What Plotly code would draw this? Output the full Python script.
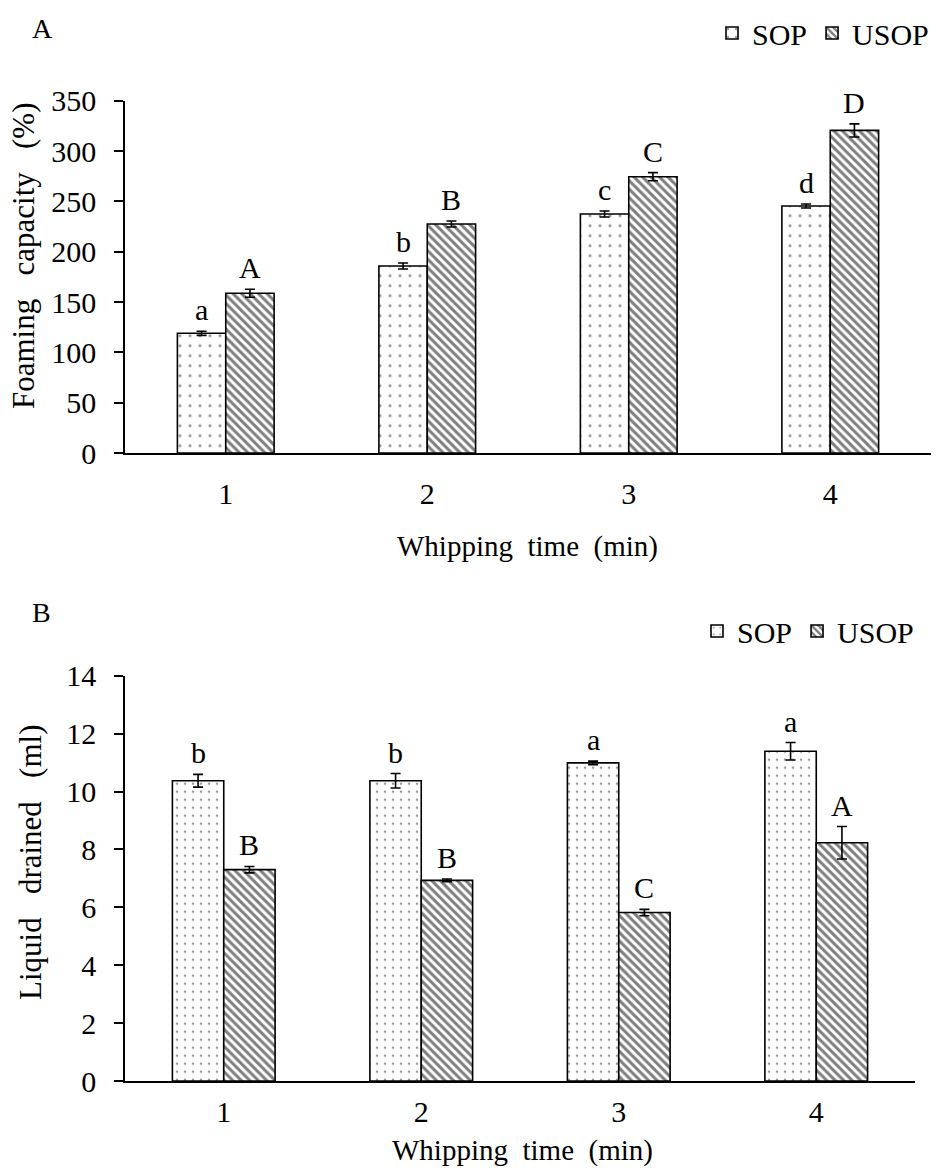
import plotly.graph_objects as go

# ---------------- data ----------------
times = [1, 2, 3, 4]
tick_labels = ["1", "2", "3", "4"]

fc_sop = [118.9, 185.8, 237.4, 245.4]
fc_sop_err = [2, 3, 3, 2]
fc_usop = [158.7, 227.5, 274.5, 320.5]
fc_usop_err = [4, 3, 4, 6.5]
fc_sop_letters = ["a", "b", "c", "d"]
fc_usop_letters = ["A", "B", "C", "D"]

ld_sop = [10.37, 10.37, 10.99, 11.39]
ld_sop_err = [0.22, 0.25, 0.06, 0.3]
ld_usop = [7.30, 6.93, 5.82, 8.23]
ld_usop_err = [0.11, 0.05, 0.11, 0.56]
ld_sop_letters = ["b", "b", "a", "a"]
ld_usop_letters = ["B", "B", "C", "A"]

# ---------------- style ----------------
W, H = 936, 1171
FONT = "Liberation Serif, Times New Roman, serif"
FS = 30
BLACK = "#000000"

def px_x(p):
    return p / W

def px_y(p):
    return 1 - p / H

fig = go.Figure()

def add_pair(sop, sop_err, usop, usop_err, xa, ya, w, legend, dot_size):
    fig.add_trace(go.Bar(
        x=times, y=sop, name="SOP", width=w, offset=-w,
        xaxis=xa, yaxis=ya, legend=legend,
        marker=dict(color="white", line=dict(color=BLACK, width=1.6),
                    pattern=dict(shape=".", size=dot_size, solidity=0.08,
                                 fgcolor="#333333", bgcolor="white")),
        error_y=dict(type="data", array=sop_err, color=BLACK, thickness=1.6, width=5),
    ))
    fig.add_trace(go.Bar(
        x=times, y=usop, name="USOP", width=w, offset=0,
        xaxis=xa, yaxis=ya, legend=legend,
        marker=dict(color="white", line=dict(color=BLACK, width=1.6),
                    pattern=dict(shape="\\", size=6, solidity=0.5,
                                 fgcolor="#000000", bgcolor="white")),
        error_y=dict(type="data", array=usop_err, color=BLACK, thickness=1.6, width=5),
    ))

wA, wB = 0.24, 0.26
add_pair(fc_sop, fc_sop_err, fc_usop, fc_usop_err, "x", "y", wA, "legend", 10)
add_pair(ld_sop, ld_sop_err, ld_usop, ld_usop_err, "x2", "y2", wB, "legend2", 8)

annotations = []

def letters(vals, errs, labs, xref, yref, dx):
    for t, v, e, l in zip(times, vals, errs, labs):
        annotations.append(dict(
            x=t + dx, y=v + e, xref=xref, yref=yref, text=l, showarrow=False,
            yanchor="bottom", xanchor="center", yshift=3,
            font=dict(family=FONT, size=FS, color=BLACK)))

letters(fc_sop, fc_sop_err, fc_sop_letters, "x", "y", -wA / 2)
letters(fc_usop, fc_usop_err, fc_usop_letters, "x", "y", wA / 2)
letters(ld_sop, ld_sop_err, ld_sop_letters, "x2", "y2", -wB / 2)
letters(ld_usop, ld_usop_err, ld_usop_letters, "x2", "y2", wB / 2)

sp = "\u00a0\u00a0"
sp3 = "\u00a0\u00a0\u00a0"
# panel labels & axis titles
for txt, x, y, ang, fs in [
    ("A", 42, 28, 0, 28),
    ("B", 41, 612, 0, 28),
    ("Whipping" + sp + "time" + sp + "(min)", 527, 546, 0, 29),
    ("Whipping" + sp + "time" + sp + "(min)", 522, 1150, 0, 29),
    ("Foaming" + sp3 + "capacity" + sp3 + "(%)", 24, 256, -90, 31),
    ("Liquid" + sp3 + "drained" + sp3 + "(ml)", 30, 862, -90, 31),
]:
    annotations.append(dict(
        x=px_x(x), y=px_y(y), xref="paper", yref="paper", text=txt,
        showarrow=False, xanchor="center", yanchor="middle", textangle=ang,
        font=dict(family=FONT, size=fs, color=BLACK)))

axis_common = dict(showgrid=False, zeroline=False, showline=True,
                   linecolor=BLACK, linewidth=1.6, automargin=False,
                   tickfont=dict(family=FONT, size=FS, color=BLACK))

fig.update_layout(
    width=W, height=H,
    margin=dict(l=0, r=0, t=0, b=0, pad=0, autoexpand=False),
    paper_bgcolor="white", plot_bgcolor="white",
    barmode="overlay", showlegend=True,
    font=dict(family=FONT, size=FS, color=BLACK),
    xaxis=dict(domain=[px_x(125), px_x(931)], range=[0.5, 4.5], anchor="y",
               tickvals=times, ticktext=tick_labels, ticks="",
               ticklabelstandoff=13, **axis_common),
    yaxis=dict(domain=[px_y(453), px_y(100.7)], range=[0, 350], anchor="x",
               tickvals=[0, 50, 100, 150, 200, 250, 300, 350],
               ticks="outside", ticklen=9, tickwidth=1.6, tickcolor=BLACK,
               ticklabelstandoff=12, **axis_common),
    xaxis2=dict(domain=[px_x(125), px_x(915)], range=[0.5, 4.5], anchor="y2",
                tickvals=times, ticktext=tick_labels, ticks="",
                ticklabelstandoff=3, **axis_common),
    yaxis2=dict(domain=[px_y(1081), px_y(675.7)], range=[0, 14], anchor="x2",
                tickvals=[0, 2, 4, 6, 8, 10, 12, 14],
                ticks="outside", ticklen=9, tickwidth=1.6, tickcolor=BLACK,
                ticklabelstandoff=12, **axis_common),
    legend=dict(orientation="h", x=px_x(934), xanchor="right",
                y=px_y(33), yanchor="middle", bgcolor="rgba(0,0,0,0)",
                font=dict(family=FONT, size=FS, color=BLACK),
                itemwidth=30, tracegroupgap=0),
    legend2=dict(orientation="h", x=px_x(919), xanchor="right",
                 y=px_y(631), yanchor="middle", bgcolor="rgba(0,0,0,0)",
                 font=dict(family=FONT, size=FS, color=BLACK),
                 itemwidth=30, tracegroupgap=0),
    annotations=annotations,
)

fig.write_html("out.html")
